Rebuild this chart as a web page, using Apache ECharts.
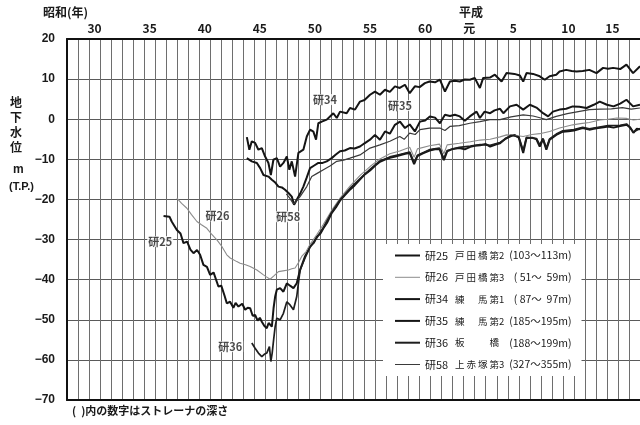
<!DOCTYPE html>
<html><head><meta charset="utf-8">
<script src="https://cdn.jsdelivr.net/npm/echarts@6/dist/echarts.min.js"></script>
<style>html,body{margin:0;padding:0;background:#fff}#c{width:640px;height:425px}</style>
</head><body><div id="c"></div>
<script>
// x = 昭和 year (decimal), y = 地下水位 m (T.P.)
const seriesNames = ['研25','研26','研34','研35','研36','研58'];

const ken25 = [[36.76,-24.1],[37.3,-24.3],[37.5,-25.5],[37.97,-27.6],[38.3,-28.5],[38.57,-30.9],[38.9,-30.5],[39.2,-32.5],[39.48,-33.4],[39.8,-32.6],[40.08,-33.8],[40.38,-36.3],[40.7,-36.8],[40.99,-38.8],[41.3,-38.2],[41.74,-41.7],[42.0,-41.5],[42.3,-44.0],[42.5,-45.9],[42.8,-45.5],[43.1,-47.0],[43.3,-45.8],[43.56,-46.7],[43.9,-46.0],[44.17,-47.5],[44.4,-47.0],[44.62,-47.1],[44.85,-49.0],[45.07,-48.8],[45.3,-50.2],[45.5,-49.5],[45.68,-50.5],[45.9,-51.5],[46.13,-52.1],[46.3,-50.8],[46.43,-50.9],[46.59,-51.7],[46.75,-47.0],[46.89,-44.2],[47.04,-42.5],[47.34,-42.1],[47.64,-43.0],[47.95,-40.9],[48.24,-41.5],[48.55,-42.1],[48.85,-40.9],[49.15,-37.6],[49.6,-34.2],[50.06,-31.7],[50.4,-30.8],[50.66,-29.3],[51.0,-28.5],[51.27,-27.2],[51.6,-25.8],[52.0,-23.5],[52.4,-22.0],[52.8,-20.2],[53.2,-19.0],[53.7,-17.5],[54.1,-16.5],[54.6,-15.0],[55.0,-13.8],[55.5,-12.8],[56.0,-11.5],[56.4,-10.6],[56.9,-10.0],[57.3,-9.6],[57.8,-9.3],[58.2,-9.0],[58.7,-8.6],[59.1,-8.4],[59.5,-11.2],[59.8,-9.2],[60.3,-8.5],[60.9,-7.8],[61.4,-7.5],[61.8,-7.4],[62.2,-10.2],[62.5,-8.0],[63.0,-7.4],[63.6,-7.2],[64.1,-7.5],[64.6,-6.9],[65.0,-6.6],[65.5,-6.5],[66.0,-6.2],[66.4,-6.8],[66.9,-6.3],[67.3,-6.0],[67.8,-4.8],[68.3,-4.2],[68.6,-3.9],[69.0,-4.6],[69.4,-8.4],[69.7,-4.7],[70.2,-4.6],[70.6,-5.0],[70.9,-6.8],[71.2,-5.0],[71.5,-7.6],[71.8,-5.1],[72.4,-3.9],[73.0,-3.1],[73.5,-3.0],[74.0,-2.8],[74.8,-2.2],[75.4,-2.6],[75.8,-2.4],[76.2,-2.2],[76.7,-2.0],[77.1,-1.8],[77.6,-2.1],[78.2,-1.7],[78.8,-1.4],[79.1,-2.0],[79.4,-3.4],[79.7,-2.4],[80,-2.5]];

const ken26 = [[37.97,-19.7],[38.4,-21.0],[38.88,-22.2],[39.3,-23.8],[39.79,-25.5],[40.2,-26.3],[40.69,-27.2],[41.1,-28.6],[41.6,-30.1],[42.0,-31.5],[42.5,-33.8],[42.81,-34.6],[43.41,-35.5],[43.71,-35.9],[44.2,-36.3],[44.62,-36.7],[45.23,-37.6],[45.83,-38.8],[46.1,-39.3],[46.43,-39.9],[46.8,-39.0],[47.19,-38.0],[47.6,-37.8],[48.09,-37.6],[48.4,-37.3],[48.7,-37.1],[49.0,-35.8],[49.3,-34.2],[49.7,-33.0],[50.06,-31.2],[50.66,-28.8],[51.27,-26.2],[52.0,-22.8],[52.8,-19.6],[53.7,-16.6],[54.6,-14.0],[55.5,-11.8],[56.4,-9.9],[57.3,-8.6],[58.2,-7.9],[59.1,-7.0],[59.5,-9.5],[59.8,-7.4],[60.9,-6.6],[61.8,-6.2],[62.2,-8.6],[62.5,-6.4],[63.6,-6.0],[64.6,-5.6],[65.5,-5.2],[66.4,-5.0],[67.3,-4.4],[67.9,-3.9],[68.6,-4.0],[69.4,-4.3],[70.2,-3.8],[70.9,-3.6],[71.8,-3.05],[72.7,-2.2],[73.9,-1.4],[74.6,-1.1],[75.4,-0.8],[76.35,-0.2],[77.1,0.0],[77.9,0.3],[78.8,0.2],[79.4,-0.2],[80,0.0]];

const ken34 = [[44.32,-4.45],[44.55,-7.6],[44.77,-5.5],[45.07,-5.9],[45.37,-7.6],[45.68,-7.2],[45.98,-9.3],[46.28,-10.9],[46.5,-13.9],[46.73,-10.1],[47.04,-9.7],[47.34,-11.8],[47.64,-10.9],[47.95,-9.3],[48.18,-12.6],[48.4,-10.5],[48.7,-14.3],[49.0,-8.4],[49.45,-7.6],[49.76,-4.3],[50.06,-2.6],[50.36,-3.1],[50.6,-5.1],[50.81,-1.0],[51.12,-0.6],[51.57,-0.1],[51.87,0.7],[52.17,1.5],[52.48,0.3],[52.78,1.9],[53.38,1.5],[53.68,2.8],[54.14,2.4],[54.59,4.4],[55.0,4.8],[55.5,6.1],[55.95,6.9],[56.4,6.1],[56.86,7.35],[57.3,6.8],[57.76,8.2],[58.2,7.8],[58.67,8.6],[59.1,6.5],[59.57,8.2],[60.0,8.0],[60.48,9.0],[60.9,9.4],[61.4,9.2],[61.84,9.85],[62.3,6.9],[62.75,9.4],[63.2,9.6],[63.65,9.4],[64.1,9.9],[64.56,9.85],[65.0,10.3],[65.47,7.8],[65.77,10.3],[66.38,10.4],[66.83,11.1],[67.44,9.4],[67.89,11.5],[68.6,11.3],[69.1,10.9],[69.4,9.4],[69.7,11.5],[70.3,11.3],[70.9,10.7],[71.36,9.85],[71.8,10.7],[72.4,11.1],[72.7,11.9],[73.3,12.3],[73.8,12.0],[74.24,11.9],[74.8,12.0],[75.4,12.3],[76.05,11.5],[76.65,12.8],[77.1,12.6],[77.56,12.8],[78.2,12.5],[78.77,13.6],[79.37,11.5],[80,13.2]];

const ken35 = [[44.32,-9.7],[44.77,-10.5],[45.23,-10.9],[45.53,-12.2],[45.83,-13.9],[46.28,-14.3],[46.59,-15.1],[46.9,-15.8],[47.19,-16.8],[47.5,-17.0],[47.79,-17.6],[48.1,-18.4],[48.4,-19.3],[48.61,-21.3],[48.85,-20.1],[49.15,-18.6],[49.45,-16.8],[49.76,-14.5],[50.06,-12.2],[50.4,-11.6],[50.81,-10.9],[51.2,-10.9],[51.57,-10.5],[52.02,-9.7],[52.4,-8.8],[52.78,-8.0],[53.2,-7.8],[53.68,-7.2],[54.1,-7.3],[54.59,-6.8],[55.0,-6.0],[55.5,-5.1],[55.95,-3.9],[56.4,-5.1],[56.86,-3.05],[57.3,-3.6],[57.76,-1.4],[58.22,-0.6],[58.67,-2.2],[59.1,-1.3],[59.57,-3.05],[60.03,-0.6],[60.5,-0.3],[60.93,0.7],[61.4,0.4],[61.84,-1.0],[62.3,1.1],[62.75,0.8],[63.2,1.1],[63.65,0.7],[64.1,-0.4],[64.56,0.7],[65.17,1.9],[65.47,0.3],[65.9,1.9],[66.4,1.5],[66.8,2.2],[67.3,2.6],[67.6,1.5],[68.2,3.2],[68.8,3.6],[69.4,2.4],[70.0,3.6],[70.6,2.9],[71.2,1.5],[71.66,0.7],[72.1,1.9],[72.7,2.4],[73.3,2.6],[73.9,3.2],[74.5,3.1],[75.15,2.8],[75.8,3.6],[76.35,4.4],[77.0,3.6],[77.6,3.2],[78.2,3.9],[78.77,4.85],[79.37,3.2],[80,3.6]];

const ken36 = [[44.77,-55.8],[45.07,-57.1],[45.37,-58.3],[45.68,-59.2],[45.9,-58.6],[46.13,-58.3],[46.37,-56.7],[46.5,-60.4],[46.62,-58.3],[46.75,-55.0],[46.89,-51.7],[47.04,-49.6],[47.34,-50.0],[47.64,-48.4],[47.95,-45.5],[48.24,-46.3],[48.55,-47.5],[48.85,-44.2],[49.15,-37.6],[49.6,-34.6],[50.06,-31.9],[50.66,-29.6],[51.27,-27.0],[52.0,-23.3],[52.8,-20.0],[53.7,-17.2],[54.6,-14.8],[55.5,-12.5],[56.4,-10.4],[57.3,-9.4],[58.2,-8.8],[59.1,-8.2],[59.5,-10.8],[59.8,-9.0],[60.9,-7.6],[61.8,-7.2],[62.2,-9.8],[62.5,-7.8],[63.6,-7.0],[64.6,-6.7],[65.5,-6.3],[66.4,-6.5],[67.3,-5.8],[68.3,-4.0],[69.0,-4.4],[69.4,-7.8],[69.7,-4.5],[70.6,-4.8],[70.9,-6.4],[71.2,-4.8],[71.5,-7.2],[71.8,-4.9],[72.4,-3.7],[73.0,-2.9],[74.0,-2.6],[74.8,-2.0],[75.4,-2.4],[76.2,-2.0],[77.1,-1.6],[78.2,-1.5],[78.8,-1.2],[79.4,-3.2],[80,-2.3]];

const ken58 = [[47.9,-18.6],[48.2,-19.6],[48.55,-21.1],[48.8,-20.5],[49.15,-19.3],[49.76,-16.8],[50.21,-14.3],[50.7,-13.5],[51.27,-12.6],[51.9,-11.6],[52.48,-10.5],[53.1,-10.2],[53.68,-9.7],[54.59,-8.9],[55.5,-7.2],[56.4,-6.4],[57.3,-5.5],[58.2,-4.3],[58.6,-5.0],[59.1,-3.45],[59.6,-3.8],[60.03,-2.6],[60.9,-2.2],[61.84,-2.2],[62.3,-2.8],[62.75,-1.8],[63.6,-1.6],[64.56,-1.0],[65.47,-0.6],[66.38,-0.1],[67.29,-0.1],[68.3,0.6],[69.4,1.1],[70.3,0.8],[71.0,0.3],[71.5,-0.1],[72.4,0.7],[73.4,1.4],[74.4,1.9],[75.4,2.4],[76.4,2.5],[77.4,2.6],[78.4,2.9],[79.2,2.5],[80,2.8]];

// top axis tick labels (昭和 / 平成), placed at year-band centres
const topTickPos = [30.5,35.5,40.5,45.5,50.5,55.5,60.5,64.5,68.5,73.5,77.5];
const topTickLabels = ['30','35','40','45','50','55','60','元','5','10','15'];

// legend descriptions
const legendInfo = {
  '研25': ['戸','田','橋','第2','(103〜113m)'],
  '研26': ['戸','田','橋','第3','( 51〜  59m)'],
  '研34': ['練',' ','馬','第1','( 87〜  97m)'],
  '研35': ['練',' ','馬','第2','(185〜195m)'],
  '研36': ['板',' ',' ','橋','(188〜199m)'],
  '研58': ['上','赤','塚','第3','(327〜355m)']
};

// in-chart curve labels [year, value, text]
const curveLabels = [[51.42,4.9,'研34'],[58.22,3.4,'研35'],[48.07,-24.3,'研58'],[41.65,-24.1,'研26'],[36.46,-30.5,'研25'],[42.81,-56.7,'研36']];

const seriesData = [ken25, ken26, ken34, ken35, ken36, ken58];
const seriesStyle = [
  {color:'#151515', width:2},
  {color:'#8c8c8c', width:1.1},
  {color:'#151515', width:2},
  {color:'#151515', width:2},
  {color:'#1e1e1e', width:1.7},
  {color:'#3a3a3a', width:1.2}
];

const numFont = '"Liberation Sans", Arial, "Noto Sans CJK JP", sans-serif';
const jpFont = '"Noto Sans CJK JP", "Liberation Sans", sans-serif';

const chart = echarts.init(document.getElementById('c'), null, {renderer:'canvas'});

const series = seriesNames.map((n,i)=>({
  name:n, type:'line', data:seriesData[i], symbol:'none', showSymbol:false,
  lineStyle:{color:seriesStyle[i].color, width:seriesStyle[i].width},
  itemStyle:{color:seriesStyle[i].color},
  z: 3, animation:false
}));
series.push({
  name:'labels', type:'scatter', data:curveLabels, symbolSize:1,
  itemStyle:{color:'rgba(0,0,0,0)'}, z:5, animation:false, silent:true,
  label:{show:true, position:'inside', formatter:p=>p.value[2], fontSize:11, fontWeight:'bold',
    color:'#1a1a1a', fontFamily:jpFont, backgroundColor:'#fff', padding:[0,1]}
});

const legendData = seriesNames.map((n,i)=>({
  name:n,
  icon:'path://M0 0H25V' + (seriesStyle[i].width >= 1.6 ? 2 : 1) + 'H0Z',
  itemStyle:{color:seriesStyle[i].color}
}));

chart.setOption({
  animation:false,
  backgroundColor:'#fff',
  grid:{left:67, top:39, right:0, bottom:25, containLabel:false},
  xAxis:[{
    type:'value', min:28, max:80, interval:1, position:'bottom',
    axisLine:{show:true, onZero:false, lineStyle:{color:'#111', width:2}},
    axisTick:{show:false}, axisLabel:{show:false},
    splitLine:{show:true, lineStyle:{color:'#6e6e6e', width:1}}
  },{
    type:'value', min:28, max:80, interval:0.5, position:'top',
    axisLine:{show:true, onZero:false, lineStyle:{color:'#111', width:2}},
    axisTick:{show:false}, splitLine:{show:false},
    axisLabel:{show:true, margin:5, fontSize:12, fontWeight:'bold', color:'#1a1a1a', fontFamily:jpFont,
      showMinLabel:false, showMaxLabel:false,
      formatter:v=>{const i=topTickPos.findIndex(p=>Math.abs(p-v)<0.01);return i>=0?topTickLabels[i]:'';}}
  }],
  yAxis:{
    type:'value', min:-70, max:20, interval:10,
    axisLine:{show:true, onZero:false, lineStyle:{color:'#111', width:2}},
    axisTick:{show:false},
    splitLine:{show:true, lineStyle:{color:'#5a5a5a', width:1}},
    axisLabel:{margin:12, fontSize:12, fontWeight:'bold', color:'#1a1a1a', fontFamily:numFont,
      formatter:v=> v<0 ? '\u2212'+Math.abs(v) : String(v)}
  },
  legend:{
    data:legendData, orient:'vertical', left:383, top:244,
    backgroundColor:'#fff', padding:[6,10,6,12], itemGap:10.8,
    itemWidth:25, itemHeight:14, selectedMode:false, symbolKeepAspect:true,
    textStyle:{fontSize:11, color:'#1a1a1a', fontFamily:jpFont,
      rich:{
        a:{width:30, fontSize:11, fontFamily:jpFont, lineHeight:14},
        n:{width:11.5, fontSize:9.5, fontFamily:jpFont, lineHeight:14},
        c:{width:14, fontSize:9.5, fontFamily:jpFont, lineHeight:14},
        d:{width:68, fontSize:10.5, fontFamily:jpFont, align:'right', lineHeight:14}
      }},
    formatter:name=>{const i=legendInfo[name];return `{a|${name}}{n|${i[0]}}{n|${i[1]}}{n|${i[2]}}{c|${i[3]}}{d|${i[4]}}`;}
  },
  graphic:[
    {type:'text', left:43, top:6, style:{text:'昭和(年)', font:'bold 12px '+jpFont, fill:'#1a1a1a'}},
    {type:'text', left:459, top:6, style:{text:'平成', font:'bold 12px '+jpFont, fill:'#1a1a1a'}},
    {type:'text', left:10, top:95, style:{text:'地\n下\n水\n位', font:'bold 12px '+jpFont, fill:'#1a1a1a', lineHeight:15}},
    {type:'text', left:13, top:164, style:{text:'m', font:'bold 12px '+numFont, fill:'#1a1a1a'}},
    {type:'text', left:9, top:181, style:{text:'(T.P.)', font:'bold 11px '+numFont, fill:'#1a1a1a'}},
    {type:'text', left:72, top:405, style:{text:'(  )内の数字はストレーナの深さ', font:'bold 11px '+jpFont, fill:'#1a1a1a'}}
  ],
  series:series
});
</script></body></html>
